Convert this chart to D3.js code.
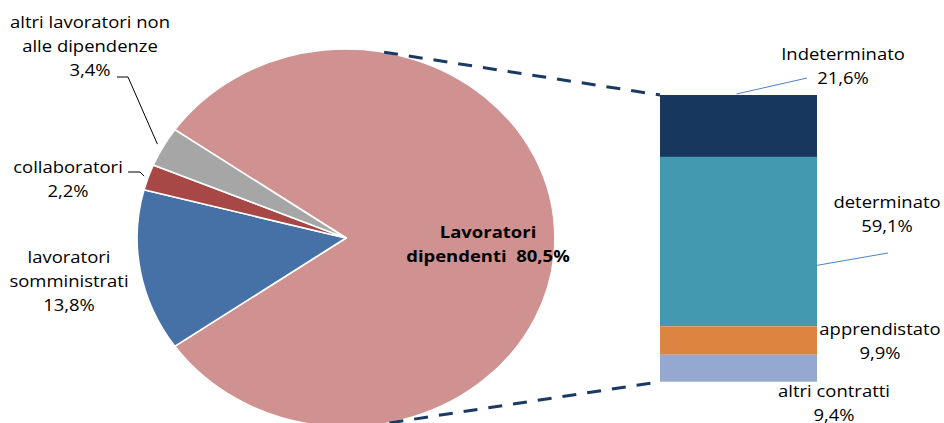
<!DOCTYPE html>
<html><head><meta charset="utf-8">
<script src="https://cdn.jsdelivr.net/npm/d3@7"></script>
<style>html,body{margin:0;padding:0;background:#fff;}svg{display:block;}</style>
</head><body>
<svg id="chart" width="944" height="423"></svg>
<script>
// ---- data ----
const pieCategories = ["Lavoratori dipendenti", "lavoratori somministrati", "collaboratori", "altri lavoratori non alle dipendenze"];
const pieValues = [80.5, 13.8, 2.2, 3.4];
const barCategories = ["Indeterminato", "determinato", "apprendistato", "altri contratti"];
const barValues = [21.6, 59.1, 9.9, 9.4];

// ---- styles ----
const pieColors = ["#d09291", "#4571a6", "#a84846", "#a6a6a6"];
const barColors = ["#17375e", "#4399b0", "#dd8441", "#95a9d0"];
const FONT = "'Open Sans', sans-serif";
const FS = 16.5, SX = 1.12, LH = 24;

const loc = d3.formatLocale({decimal: ",", thousands: ".", grouping: [3], currency: ["", "€"]});
const fmt = v => loc.format(".1f")(v) + "%";

const svg = d3.select("#chart");
svg.append("rect").attr("width", 944).attr("height", 423).attr("fill", "#fff");

// ---- pie (elliptical) ----
const cx = 346, cy = 238, ry = 189, rx = 209;
const total = d3.sum(pieValues);
const mainSpan = 2 * Math.PI * pieValues[0] / total;
const start = Math.PI / 2 - mainSpan / 2;
const pie = d3.pie().sort(null).startAngle(start).endAngle(start + 2 * Math.PI);
const arcs = pie(pieValues);
const arc = d3.arc().innerRadius(0).outerRadius(ry);
const gPie = svg.append("g").attr("transform", `translate(${cx},${cy}) scale(${rx / ry},1)`);
gPie.selectAll("path").data(arcs).join("path")
  .attr("d", arc)
  .attr("fill", (d, i) => pieColors[i])
  .attr("stroke", "#fff").attr("stroke-width", 1.6).attr("stroke-linejoin", "round");

function ellPoint(a, r) { // a: d3 angle (0 = 12 o'clock, clockwise)
  return [cx + Math.sin(a) * r * rx / ry, cy - Math.cos(a) * r];
}

// ---- bar ----
const barX0 = 660, barX1 = 817;
const y = d3.scaleLinear().domain([0, d3.sum(barValues)]).range([95, 381.7]);
const cum = [];
barValues.reduce((acc, v, i) => { cum.push([acc, acc + v]); return acc + v; }, 0);
svg.append("g").selectAll("rect").data(barValues).join("rect")
  .attr("x", barX0).attr("width", barX1 - barX0)
  .attr("y", (d, i) => y(cum[i][0]))
  .attr("height", (d, i) => y(cum[i][1]) - y(cum[i][0]))
  .attr("fill", (d, i) => barColors[i]);

// ---- series (dashed) lines ----
const pTop = ellPoint(10.5 * Math.PI / 180, ry);
const pBot = ellPoint(168 * Math.PI / 180, ry);
const dashStyle = s => s.attr("stroke", "#1b3a63").attr("stroke-width", 3).attr("stroke-dasharray", "14,11").attr("fill", "none");
svg.append("line").attr("x1", pTop[0]).attr("y1", pTop[1]).attr("x2", barX0).attr("y2", y(0)).call(dashStyle);
svg.append("line").attr("x1", pBot[0]).attr("y1", pBot[1]).attr("x2", barX0).attr("y2", y(d3.sum(barValues))).call(dashStyle);

// ---- text helper ----
function label(lines, x, yb, bold) {
  const t = svg.append("text")
    .attr("transform", `translate(${x},${yb}) scale(${SX},1)`)
    .attr("text-anchor", "middle")
    .attr("font-family", FONT).attr("font-size", FS)
    .attr("font-weight", bold ? "bold" : "normal")
    .attr("fill", "#000")
    .style("white-space", "pre");
  lines.forEach((l, i) => t.append("tspan").attr("x", 0).attr("y", i * LH).text(l));
  return t;
}

// pie labels
label(["Lavoratori", "dipendenti  " + fmt(pieValues[0])], 488, 238, true);
label(["lavoratori", "somministrati", fmt(pieValues[1])], 69, 263);
label(["collaboratori", fmt(pieValues[2])], 68, 173);
label(["altri lavoratori non", "alle dipendenze", fmt(pieValues[3])], 90, 28);

// pie leader lines
const leader = pts => svg.append("polyline").attr("points", pts.map(p => p.join(",")).join(" "))
  .attr("fill", "none").attr("stroke", "#000").attr("stroke-width", 1);
const midA = d => (d.startAngle + d.endAngle) / 2;
leader([[117, 77], [128, 77], ellPoint(midA(arcs[3]), ry * 1.03)]);
leader([[128, 172], [140, 172], ellPoint(midA(arcs[2]), ry * 1.02)]);

// bar labels
label([barCategories[0], fmt(barValues[0])], 843, 60);
label([barCategories[1], fmt(barValues[1])], 887, 208);
label([barCategories[2], fmt(barValues[2])], 880, 335);
label([barCategories[3], fmt(barValues[3])], 834, 397);

// bar leader lines
const bLeader = (x1, y1, x2, y2) => svg.append("line").attr("x1", x1).attr("y1", y1).attr("x2", x2).attr("y2", y2)
  .attr("stroke", "#4f81bd").attr("stroke-width", 1);
bLeader((barX0 + barX1) / 2 - 2, y(0) - 1, 807, 78);
bLeader(barX1, y(cum[1][0]) + 0.64 * (y(cum[1][1]) - y(cum[1][0])), 888, 253);
</script>
</body></html>
